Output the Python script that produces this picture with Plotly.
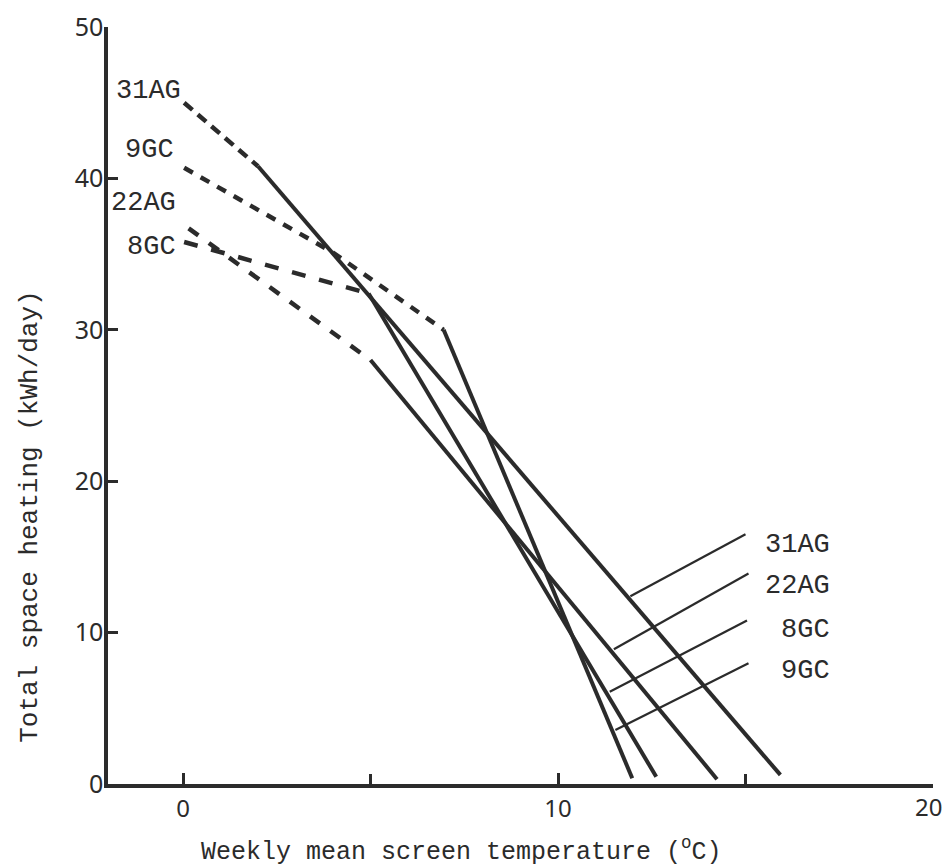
import plotly.graph_objects as go

# ---- data ----
houses = ["31AG", "22AG", "8GC", "9GC"]

# dashed (extrapolated) segments: temperature (°C), heating (kWh/day)
dash_t = {"31AG": [0.03, 2.0], "22AG": [0.15, 5.0], "8GC": [0.03, 4.95], "9GC": [0.03, 4.0, 6.95]}
dash_h = {"31AG": [45.0, 40.8], "22AG": [36.7, 28.0], "8GC": [35.8, 32.4], "9GC": [40.7, 35.1, 30.0]}

# solid (measured) segments
solid_t = {"31AG": [2.0, 15.93], "22AG": [5.0, 14.24], "8GC": [4.95, 12.62], "9GC": [6.95, 11.98]}
solid_h = {"31AG": [40.8, 0.6], "22AG": [28.0, 0.32], "8GC": [32.4, 0.48], "9GC": [30.0, 0.38]}

# leader lines for right-hand labels
leader_t = {"31AG": [11.93, 15.0], "22AG": [11.49, 15.08], "8GC": [11.38, 15.04], "9GC": [11.53, 15.08]}
leader_h = {"31AG": [12.4, 16.5], "22AG": [8.9, 13.9], "8GC": [6.1, 10.8], "9GC": [3.57, 7.97]}

# right label positions
rlabel_t = [17.3, 17.3, 17.3, 17.3]
rlabel_h = [15.8, 13.1, 10.2, 7.46]

# left label positions (order: 31AG, 22AG, 8GC, 9GC)
llabel_t = [0.0, -0.13, -0.13, -0.18]
llabel_h = [45.8, 38.4, 35.5, 41.9]

x_tickvals = [0, 10]
x_minorvals = [5, 15, 20]
x_last_tick = 20
y_tickvals = [0, 10, 20, 30, 40, 50]

x_title = "Weekly mean screen temperature (<sup>o</sup>C)"
y_title = "Total space heating (kWh/day)"

dash_style = {"31AG": "11px,7px", "22AG": "12px,13px", "8GC": "14px,14px", "9GC": "10px,9px"}

INK = "#2b2b2b"
MONO = "Liberation Mono"

fig = go.Figure()
for h in houses:
    fig.add_trace(go.Scatter(x=dash_t[h], y=dash_h[h], mode="lines",
                             line=dict(color=INK, width=4.5, dash=dash_style[h]),
                             showlegend=False, hoverinfo="skip"))
    fig.add_trace(go.Scatter(x=solid_t[h], y=solid_h[h], mode="lines",
                             line=dict(color=INK, width=4),
                             showlegend=False, hoverinfo="skip"))
    fig.add_trace(go.Scatter(x=leader_t[h], y=leader_h[h], mode="lines",
                             line=dict(color=INK, width=2.2),
                             showlegend=False, hoverinfo="skip"))

for name, xt, yh in zip(houses, rlabel_t, rlabel_h):
    fig.add_annotation(x=xt, y=yh, text=name, showarrow=False, xanchor="right",
                       yanchor="middle", font=dict(family=MONO, size=27, color=INK))

for name, xt, yh in zip(houses, llabel_t, llabel_h):
    fig.add_annotation(x=xt, y=yh, text=name, showarrow=False, xanchor="right",
                       yanchor="middle", font=dict(family=MONO, size=27, color=INK))

# last x tick label, kept inside the page at the right edge
fig.add_annotation(x=x_last_tick, y=0, text=str(x_last_tick), showarrow=False,
                   xanchor="right", yanchor="top", xshift=11, yshift=-4,
                   font=dict(family="Noto Sans", size=24, color=INK))

# axis titles (placed as in the reference, not centred on the axes)
fig.add_annotation(xref="paper", yref="paper", x=0.429, y=-0.087, text=x_title,
                   showarrow=False, xanchor="center", yanchor="middle",
                   font=dict(family=MONO, size=25, color=INK))
fig.add_annotation(xref="paper", yref="paper", x=-0.0945, y=0.353, text=y_title,
                   showarrow=False, textangle=-90, xanchor="center", yanchor="middle",
                   font=dict(family=MONO, size=26, color=INK))

fig.update_layout(
    width=944, height=865,
    margin=dict(l=108, r=11, t=27, b=81),
    plot_bgcolor="white", paper_bgcolor="white",
    xaxis=dict(range=[-2, 20], tickvals=x_tickvals, automargin=False,
               ticks="inside", ticklen=11, tickwidth=3, tickcolor=INK,
               minor=dict(tickvals=x_minorvals, ticks="inside", ticklen=10, tickwidth=3,
                          tickcolor=INK, showgrid=False),
               showline=True, linewidth=3.5, linecolor=INK, showgrid=False, zeroline=False,
               tickfont=dict(family="Noto Sans", size=24, color=INK)),
    yaxis=dict(range=[0, 50], tickvals=y_tickvals, automargin=False,
               ticks="inside", ticklen=10, tickwidth=3, tickcolor=INK,
               showline=True, linewidth=3.5, linecolor=INK, showgrid=False, zeroline=False,
               tickfont=dict(family="Noto Sans", size=25, color=INK),
               ticklabelstandoff=-4),
)

fig.write_html("out.html")
